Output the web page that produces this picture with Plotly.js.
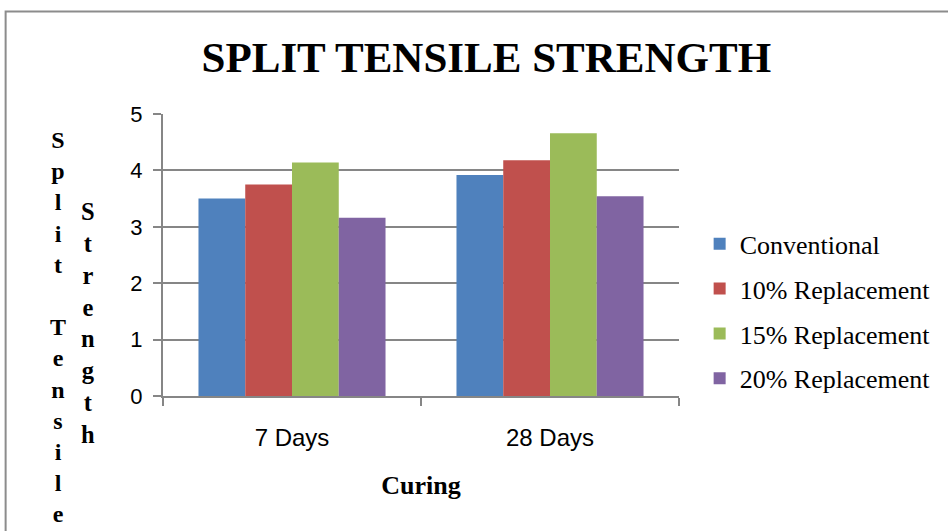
<!DOCTYPE html>
<html>
<head>
<meta charset="utf-8">
<script src="https://cdn.plot.ly/plotly-3.0.1.min.js"></script>
<style>html,body{margin:0;padding:0;background:#fff;}#chart{width:948px;height:531px;}</style>
</head>
<body>
<div id="chart"></div>
<script>
const categories = ["7 Days", "28 Days"];
const seriesNames = ["Conventional", "10% Replacement", "15% Replacement", "20% Replacement"];
const conventional = [3.50, 3.92];
const replacement10 = [3.75, 4.18];
const replacement15 = [4.14, 4.66];
const replacement20 = [3.16, 3.54];
const yTicks = [0, 1, 2, 3, 4, 5];
const colors = ["#4F81BD", "#C0504D", "#9BBB59", "#8064A2"];

const seriesValues = [conventional, replacement10, replacement15, replacement20];
const traces = seriesValues.map((vals, i) => ({
  type: "bar",
  name: seriesNames[i],
  x: categories,
  y: vals,
  marker: {color: colors[i], line: {width: 0}},
  legendgroup: "g" + i,
  hoverinfo: "x+y+name"
}));

const serif = "'Liberation Serif', 'Times New Roman', serif";
const sans = "'Liberation Sans Narrow', 'Liberation Sans', Arial, sans-serif";

const layout = {
  width: 948, height: 531,
  margin: {l: 163, r: 269, t: 114, b: 135, autoexpand: false},
  paper_bgcolor: "#fff", plot_bgcolor: "#fff",
  barmode: "group", bargap: 0.275, bargroupgap: 0,
  title: {text: "<b>SPLIT TENSILE STRENGTH</b>", font: {family: serif, size: 43, color: "#000"},
          x: 0.513, xanchor: "center", y: 0.893, yanchor: "middle", xref: "container", yref: "container"},
  xaxis: {
    type: "category", showline: true, linecolor: "#868686", linewidth: 2,
    ticks: "outside", tickson: "boundaries", ticklen: 8, tickcolor: "#868686", tickwidth: 2,
    tickfont: {family: sans, size: 24, color: "#000"}, ticklabelstandoff: 19,
    title: {text: "<b>Curing</b>", font: {family: serif, size: 26, color: "#000"}, standoff: 26},
    showgrid: false
  },
  yaxis: {
    range: [0, 5], tickvals: yTicks, ticktext: yTicks.map(String),
    showline: true, linecolor: "#868686", linewidth: 2,
    ticks: "outside", ticklen: 8, tickcolor: "#868686", tickwidth: 2,
    showgrid: true, gridcolor: "#868686", gridwidth: 2, zeroline: false,
    tickfont: {family: sans, size: 22, color: "#000"}, ticklabelstandoff: 6
  },
  legend: {
    x: 1.04, xanchor: "left", y: 0.30, yanchor: "middle",
    font: {family: serif, size: 26, color: "#000"},
    traceorder: "grouped", tracegroupgap: 8, itemwidth: 30
  },
  shapes: [{
    type: "rect", xref: "paper", yref: "paper",
    x0: -0.305, x1: 1.56, y0: -0.52, y1: 1.3635,
    line: {color: "#8c8c8c", width: 2}, fillcolor: "rgba(0,0,0,0)", layer: "below"
  }],
  annotations: [
    {text: "<b>S<br>p<br>l<br>i<br>t<br> <br>T<br>e<br>n<br>s<br>i<br>l<br>e</b>",
     xref: "paper", yref: "paper", x: -0.2035, y: 0.96, xanchor: "center", yanchor: "top",
     showarrow: false, align: "center", font: {family: serif, size: 24, color: "#000"}},
    {text: "<b>S<br>t<br>r<br>e<br>n<br>g<br>t<br>h</b>",
     xref: "paper", yref: "paper", x: -0.145, y: 0.71, xanchor: "center", yanchor: "top",
     showarrow: false, align: "center", font: {family: serif, size: 24.5, color: "#000"}}
  ]
};

Plotly.newPlot("chart", traces, layout, {displayModeBar: false});
</script>
</body>
</html>
